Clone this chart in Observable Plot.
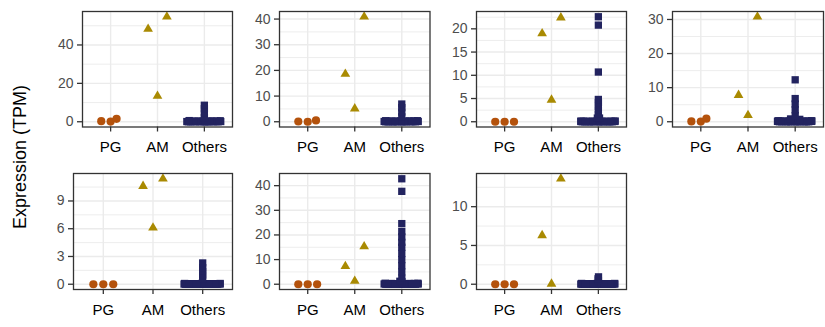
<!DOCTYPE html>
<html>
<head>
<meta charset="utf-8">
<script src="https://cdn.jsdelivr.net/npm/d3@7"></script>
<script src="https://cdn.jsdelivr.net/npm/@observablehq/plot@0.6"></script>
<style>
  html, body { margin: 0; padding: 0; background: #ffffff; }
  #figure { position: relative; width: 825px; height: 327px; overflow: hidden; background: #ffffff;
            font-family: "Liberation Sans", Arial, Helvetica, sans-serif; }
  #figure svg { position: absolute; overflow: visible; }
  #ytitle { position: absolute; left: 20px; top: 157px; transform: translate(-50%, -50%) rotate(-90deg);
            font-size: 18px; color: #000; white-space: nowrap; }
</style>
</head>
<body>
<div id="figure"><div id="ytitle">Expression (TPM)</div></div>
<script>
const categories = ["PG", "AM", "Others"];
const colors = {PG: "#B4520C", AM: "#A98A02", Others: "#22235F"};

// Panel 1
const p1PG = [0.1, 0.3, 1.5];
const p1AM = [13.4, 48.3, 54.7];
const p1Others = [0, 0, 0.1, 0, 0.2, 0.1, 0, 0.3, 0.1, 0.2, 0, 0.4, 0.1, 0.2, 0.3, 0, 0.1, 0.5, 0.2, 0.1, 0, 0.3, 0.2, 0.4, 0.1, 0.6, 0, 0.2, 0.1, 0.3, 0, 0.2,
                  2.2, 4.6, 6.8, 8.6];
const p1Ticks = [0, 20, 40];
const p1Minor = [10, 30, 50];

// Panel 2
const p2PG = [0, 0.1, 0.5];
const p2AM = [5.1, 18.6, 40.9];
const p2Others = [0, 0.1, 0, 0.2, 0.1, 0, 0.3, 0.1, 0.2, 0, 0.1, 0.4, 0, 0.2, 0.1, 0.3, 0, 0.1, 0.2, 0, 0.1, 0.3, 0.2, 0, 0.1, 0.4, 0.2, 0, 0.1, 0.3, 0.1, 0,
                  1.9, 3.8, 5.5, 6.9];
const p2Ticks = [0, 10, 20, 30, 40];
const p2Minor = [5, 15, 25, 35];

// Panel 3
const p3PG = [0, 0, 0];
const p3AM = [4.7, 19.0, 22.4];
const p3Others = [0, 0.05, 0, 0.1, 0.05, 0, 0.15, 0.05, 0.1, 0, 0.05, 0.1, 0, 0.05, 0.15, 0, 0.1, 0.05, 0, 0.1, 0.05, 0, 0.15, 0.1, 0, 0.05, 0.1, 0, 0.05, 0.1, 0, 0.05,
                  0.7, 0.8, 0.8, 1.6, 2.5, 3.3, 4.1, 4.8, 10.7, 20.8, 22.6];
const p3Ticks = [0, 5, 10, 15, 20];
const p3Minor = [2.5, 7.5, 12.5, 17.5, 22.5];

// Panel 4
const p4PG = [0.05, 0.1, 0.9];
const p4AM = [1.9, 7.8, 30.8];
const p4Others = [0, 0.1, 0, 0.2, 0.1, 0, 0.3, 0.1, 0.2, 0, 0.1, 0.2, 0, 0.1, 0.3, 0, 0.1, 0.2, 0, 0.1, 0.2, 0, 0.1, 0.3, 0, 0.1, 0.2, 0, 0.1, 0.2, 0, 0.1,
                  0.6, 0.7, 0.7, 0.8, 1.8, 3.5, 5.2, 6.8, 12.3];
const p4Ticks = [0, 10, 20, 30];
const p4Minor = [5, 15, 25];

// Panel 5
const p5PG = [0, 0, 0];
const p5AM = [6.1, 10.6, 11.4];
const p5Others = [0, 0.02, 0, 0.05, 0.02, 0, 0.08, 0.02, 0.05, 0, 0.02, 0.05, 0, 0.02, 0.08, 0, 0.05, 0.02, 0, 0.05, 0.02, 0, 0.08, 0.05, 0, 0.02, 0.05, 0, 0.02, 0.05, 0, 0.02,
                  0.6, 1.0, 1.4, 1.8, 2.3];
const p5Ticks = [0, 3, 6, 9];
const p5Minor = [1.5, 4.5, 7.5, 10.5];

// Panel 6
const p6PG = [0, 0, 0];
const p6AM = [1.3, 7.3, 15.3];
const p6Others = [0, 0.1, 0, 0.2, 0.1, 0, 0.3, 0.1, 0.2, 0, 0.1, 0.4, 0, 0.2, 0.1, 0.3, 0, 0.1, 0.2, 0, 0.1, 0.3, 0.2, 0, 0.1, 0.4, 0.2, 0, 0.1, 0.3, 0.1, 0,
                  1.0, 1.2, 2.5, 5, 7.5, 10, 12.5, 15, 17, 19.2, 21.4, 24.6, 37.7, 42.8];
const p6Ticks = [0, 10, 20, 30, 40];
const p6Minor = [5, 15, 25, 35];

// Panel 7
const p7PG = [0, 0, 0];
const p7AM = [0.05, 6.3, 13.6];
const p7Others = [0, 0.02, 0, 0.05, 0.02, 0, 0.1, 0.02, 0.05, 0, 0.02, 0.05, 0, 0.02, 0.1, 0, 0.05, 0.02, 0, 0.05, 0.02, 0, 0.1, 0.05, 0, 0.02, 0.05, 0, 0.02, 0.05, 0, 0.02,
                  0.5, 0.7, 0.95];
const p7Ticks = [0, 5, 10];
const p7Minor = [2.5, 7.5, 12.5];

const panels = [
  {pg: p1PG, am: p1AM, others: p1Others, ticks: p1Ticks, minor: p1Minor, left: 82,    top: 11,  w: 150,   h: 115.5},
  {pg: p2PG, am: p2AM, others: p2Others, ticks: p2Ticks, minor: p2Minor, left: 278.5, top: 11,  w: 150.5, h: 115.5},
  {pg: p3PG, am: p3AM, others: p3Others, ticks: p3Ticks, minor: p3Minor, left: 476,   top: 11,  w: 150,   h: 115.5},
  {pg: p4PG, am: p4AM, others: p4Others, ticks: p4Ticks, minor: p4Minor, left: 672,   top: 11,  w: 151,   h: 115.5},
  {pg: p5PG, am: p5AM, others: p5Others, ticks: p5Ticks, minor: p5Minor, left: 73,    top: 173, w: 159,   h: 116},
  {pg: p6PG, am: p6AM, others: p6Others, ticks: p6Ticks, minor: p6Minor, left: 279,   top: 173, w: 150.5, h: 116},
  {pg: p7PG, am: p7AM, others: p7Others, ticks: p7Ticks, minor: p7Minor, left: 476,   top: 173, w: 150,   h: 116}
];

// quasirandom (van der Corput) horizontal offsets, scaled by local density
function vdc(n) { let v = 0, b = 0.5; while (n > 0) { if (n & 1) v += b; b /= 2; n >>= 1; } return v; }
function quasiOffsets(values, bw, width = 0.4) {
  const n = values.length;
  const order = d3.range(n).sort((a, b) => values[a] - values[b] || a - b);
  const rank = new Array(n);
  order.forEach((i, r) => rank[i] = r + 1);
  let dens = values.map(y => d3.sum(values, v => Math.exp(-0.5 * ((y - v) / bw) ** 2)));
  if (n >= 10) dens = dens.map(d => d - 1);   // large groups: isolated points stay on the centre line
  const maxD = d3.max(dens);
  return values.map((y, i) => (vdc(rank[i]) - 0.5) * 2 * width * Math.max(0, dens[i]) / maxD);
}

const fig = document.getElementById("figure");
const ml = 44, mr = 4, mt = 4, mb = 40;

panels.forEach(p => {
  const all = [...p.pg, ...p.am, ...p.others];
  const [lo, hi] = d3.extent(all);
  const pad = (hi - lo) * 0.05;
  const domain = [lo - pad, hi + pad];
  const bw = (domain[1] - domain[0]) * 0.012;
  const toPts = (vals, ci) => {
    const off = quasiOffsets(vals, bw);
    return vals.map((v, i) => ({x: ci + off[i], y: v}));
  };
  const chart = Plot.plot({
    width: p.w + ml + mr,
    height: p.h + mt + mb,
    marginLeft: ml, marginRight: mr, marginTop: mt, marginBottom: mb,
    style: {background: "transparent", fontFamily: '"Liberation Sans", Arial, sans-serif', overflow: "visible"},
    x: {domain: [0.4, 3.6], axis: null, label: null},
    y: {domain, axis: null, label: null},
    marks: [
      Plot.ruleY(p.minor, {stroke: "#EBEBEB", strokeWidth: 0.9}),
      Plot.ruleY(p.ticks, {stroke: "#EBEBEB", strokeWidth: 1.4}),
      Plot.ruleX([1, 2, 3], {stroke: "#EBEBEB", strokeWidth: 1.4}),
      Plot.dot(toPts(p.pg, 1), {x: "x", y: "y", symbol: "circle", r: 4.1, fill: colors.PG}),
      Plot.dot(toPts(p.am, 2), {x: "x", y: "y", symbol: "triangle", r: 3.6, fill: colors.AM}),
      Plot.dot(toPts(p.others, 3), {x: "x", y: "y", symbol: "square", r: 4.12, fill: colors.Others}),
      Plot.frame({stroke: "#333333", strokeWidth: 1.3}),
      Plot.axisY(p.ticks, {tickSize: 5, tickPadding: 4, stroke: "#333333", strokeWidth: 1.3,
                           fill: "#4D4D4D", fontSize: 14, label: null}),
      Plot.axisX([1, 2, 3], {tickSize: 5, tickPadding: 9.5, stroke: "#333333", strokeWidth: 1.3,
                             fill: "#000000", fontSize: 15, label: null,
                             tickFormat: d => categories[d - 1]})
    ]
  });
  chart.style.left = (p.left - ml) + "px";
  chart.style.top = (p.top - mt) + "px";
  fig.appendChild(chart);
});
</script>
</body>
</html>
